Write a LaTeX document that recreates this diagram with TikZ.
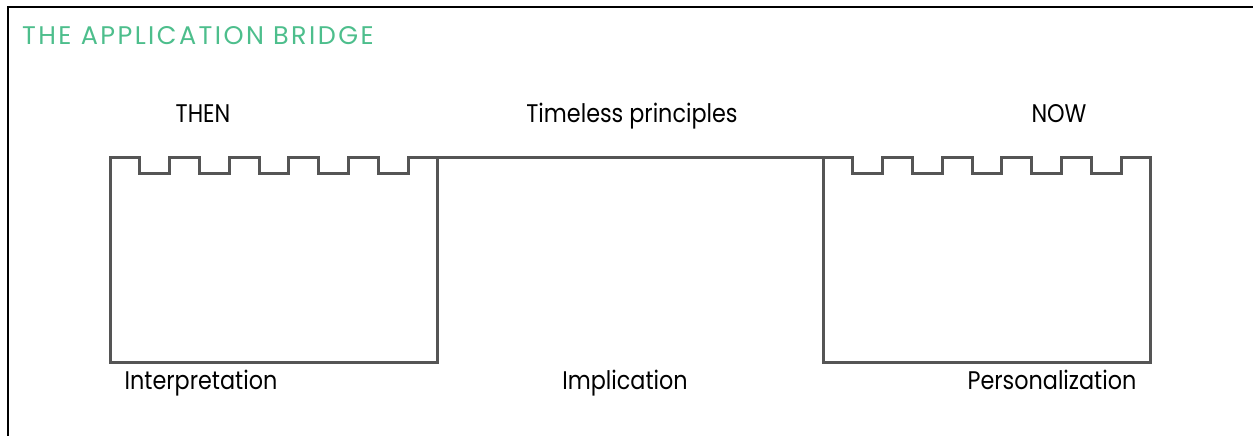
\documentclass[tikz,border=0pt]{standalone}
\usepackage{fontspec}
\setmainfont{Poppins}[FakeStretch=0.875]
\newfontfamily\titlefont[LetterSpace=9.5]{Poppins}
\usetikzlibrary{positioning}
\definecolor{bridgegreen}{HTML}{4DBE8C}
\definecolor{wallgray}{HTML}{555555}
\begin{document}
\begin{tikzpicture}[x=1pt,y=-1pt]
	\tikzstyle{frame}=[line width=2pt, draw=black]
	\tikzstyle{wall}=[line width=3pt, draw=wallgray, line join=miter]
	\tikzstyle{tag}=[inner sep=0pt, anchor=base, text=black, font=\fontsize{25.5}{30}\selectfont]
	\tikzstyle{heading}=[inner sep=0pt, anchor=base west, text=bridgegreen, font=\titlefont\fontsize{25.5}{30}\selectfont]
	\useasboundingbox (0,0) rectangle (1253,436);
	\draw[frame] (8,436) -- (8,7) -- (1253,7);
	\node[heading] (title) at (22,45) {THE APPLICATION BRIDGE};
	% castles, 11 merlon/notch steps each
	\def\seg{29.8}
	\draw[wall] (110,362) coordinate (thenSW) -- (110,157)
		\foreach \k in {1,...,5} { -- ++(\seg,0) -- ++(0,16) -- ++(\seg,0) -- ++(0,-16) }
		-- ++(\seg,0) coordinate (thenNE) -- (thenNE |- thenSW) coordinate (thenSE) -- cycle;
	\draw[wall] (823,362) coordinate (nowSW) -- (823,157) coordinate (nowNW)
		\foreach \k in {1,...,5} { -- ++(\seg,0) -- ++(0,16) -- ++(\seg,0) -- ++(0,-16) }
		-- ++(\seg,0) coordinate (nowNE) -- (nowNE |- nowSW) -- cycle;
	\draw[wall] (thenNE) -- (nowNW);
	\node[tag] (then) at (203,122) {THEN};
	\node[tag] (timeless) at (632,122) {Timeless principles};
	\node[tag] (now) at (1059,122) {NOW};
	\node[tag] (interp) at (201,389) {Interpretation};
	\node[tag] (implic) at (625,389) {Implication};
	\node[tag] (person) at (1052,389) {Personalization};
\end{tikzpicture}
\end{document}
